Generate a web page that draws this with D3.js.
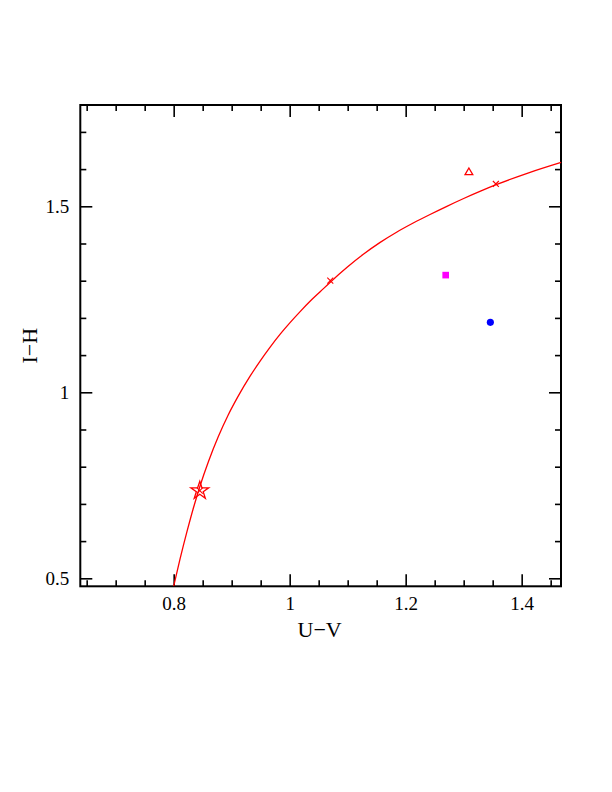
<!DOCTYPE html>
<html><head><meta charset="utf-8">
<script src="https://cdn.jsdelivr.net/npm/d3@7"></script>
<style>body{margin:0;background:#fff;} svg{display:block;}</style>
</head><body>
<script>
// Model curve (U-V, I-H)
const curveU  = [0.800,0.811,0.823,0.834,0.846,0.860,0.877,0.894,0.911,0.932,0.949,0.966,0.984,1.001,1.018,1.036,1.053,1.070,1.099,1.127,1.156,1.185,1.213,1.242,1.271,1.300,1.328,1.356,1.412,1.468];
const curveIH = [0.479,0.552,0.626,0.689,0.751,0.814,0.881,0.939,0.989,1.044,1.084,1.121,1.157,1.188,1.217,1.246,1.271,1.296,1.336,1.371,1.403,1.431,1.455,1.478,1.500,1.521,1.540,1.558,1.590,1.618];
// Crosses on the curve
const crossU  = [0.845, 1.070, 1.3555];
const crossIH = [0.7355, 1.300, 1.560];
// Star (open)
const starU = [0.845], starIH = [0.7355];
// Triangle (open)
const triU = [1.309], triIH = [1.591];
// Magenta square
const sqU = [1.269], sqIH = [1.315];
// Blue circle
const circU = [1.346], circIH = [1.188];
// Ticks
const xMajor = [0.8, 1, 1.2, 1.4];
const xMinor = [0.65,0.7,0.75,0.85,0.9,0.95,1.05,1.1,1.15,1.25,1.3,1.35,1.45];
const yMajor = [0.5, 1, 1.5];
const yMinor = [0.6,0.7,0.8,0.9,1.1,1.2,1.3,1.4,1.6,1.7];
const xTickLabels = ["0.8","1","1.2","1.4"];
const yTickLabels = ["0.5","1","1.5"];

const W = 612, H = 792;
const L = 80.3, R = 561, T = 105, B = 586.3;
const x = d3.scaleLinear().domain([0.639, 1.4678]).range([L, R]);
const y = d3.scaleLinear().domain([0.4785, 1.7723]).range([B, T]);

const svg = d3.select("body").append("svg").attr("width", W).attr("height", H);
const font = "'Liberation Serif', 'DejaVu Serif', serif";

function styleAxis(g){
  g.select(".domain").remove();
  g.selectAll("line").attr("stroke", "#000").attr("stroke-width", 1.6);
  g.selectAll("text").attr("font-family", font).attr("font-size", 19).attr("fill", "#000");
}
// bottom
svg.append("g").attr("transform", `translate(0,${B})`)
  .call(d3.axisBottom(x).tickValues(xMajor).tickSize(-12).tickPadding(10).tickFormat((d,i)=>xTickLabels[i])).call(styleAxis);
svg.append("g").attr("transform", `translate(0,${B})`)
  .call(d3.axisBottom(x).tickValues(xMinor).tickSize(-6).tickFormat("")).call(styleAxis);
// top
svg.append("g").attr("transform", `translate(0,${T})`)
  .call(d3.axisTop(x).tickValues(xMajor).tickSize(-12).tickFormat("")).call(styleAxis);
svg.append("g").attr("transform", `translate(0,${T})`)
  .call(d3.axisTop(x).tickValues(xMinor).tickSize(-6).tickFormat("")).call(styleAxis);
// left
svg.append("g").attr("transform", `translate(${L},0)`)
  .call(d3.axisLeft(y).tickValues(yMajor).tickSize(-12).tickPadding(11).tickFormat((d,i)=>yTickLabels[i])).call(styleAxis);
svg.append("g").attr("transform", `translate(${L},0)`)
  .call(d3.axisLeft(y).tickValues(yMinor).tickSize(-6).tickFormat("")).call(styleAxis);
// right
svg.append("g").attr("transform", `translate(${R},0)`)
  .call(d3.axisRight(y).tickValues(yMajor).tickSize(-12).tickFormat("")).call(styleAxis);
svg.append("g").attr("transform", `translate(${R},0)`)
  .call(d3.axisRight(y).tickValues(yMinor).tickSize(-6).tickFormat("")).call(styleAxis);

// frame
svg.append("rect").attr("x", L).attr("y", T).attr("width", R-L).attr("height", B-T)
  .attr("fill", "none").attr("stroke", "#000").attr("stroke-width", 2);

// curve
const curvePts = curveU.map((u,i)=>[u, curveIH[i]]);
svg.append("path").datum(curvePts)
  .attr("d", d3.line().x(d=>x(d[0])).y(d=>y(d[1])).curve(d3.curveMonotoneX))
  .attr("fill", "none").attr("stroke", "#ff0000").attr("stroke-width", 1.3);

// crosses
svg.selectAll(".cross").data(crossU.map((u,i)=>[u, crossIH[i]])).join("path")
  .attr("transform", d=>`translate(${x(d[0])},${y(d[1])})`)
  .attr("d", d3.symbol(d3.symbolTimes, 25))
  .attr("fill", "none").attr("stroke", "#ff0000").attr("stroke-width", 1.1);

// star
svg.selectAll(".star").data(starU.map((u,i)=>[u, starIH[i]])).join("path")
  .attr("transform", d=>`translate(${x(d[0])},${y(d[1])})`)
  .attr("d", d3.symbol(d3.symbolStar, 100))
  .attr("fill", "none").attr("stroke", "#ff0000").attr("stroke-width", 1.3);

// triangle
svg.selectAll(".tri").data(triU.map((u,i)=>[u, triIH[i]])).join("path")
  .attr("transform", d=>`translate(${x(d[0])},${y(d[1])})`)
  .attr("d", d3.symbol(d3.symbolTriangle, 26))
  .attr("fill", "none").attr("stroke", "#ff0000").attr("stroke-width", 1.3);

// square
svg.selectAll(".sq").data(sqU.map((u,i)=>[u, sqIH[i]])).join("path")
  .attr("transform", d=>`translate(${x(d[0])},${y(d[1])})`)
  .attr("d", d3.symbol(d3.symbolSquare, 44))
  .attr("fill", "#ff00ff");

// circle
svg.selectAll(".circ").data(circU.map((u,i)=>[u, circIH[i]])).join("path")
  .attr("transform", d=>`translate(${x(d[0])},${y(d[1])})`)
  .attr("d", d3.symbol(d3.symbolCircle, 40))
  .attr("fill", "#0000ff");

// axis titles
svg.append("text").attr("x", (L+R)/2 - 1).attr("y", 637)
  .attr("text-anchor", "middle").attr("font-family", font).attr("font-size", 22)
  .text("U\u2212V");
svg.append("text").attr("transform", `translate(37,${(T+B)/2}) rotate(-90)`)
  .attr("text-anchor", "middle").attr("font-family", font).attr("font-size", 22)
  .text("I\u2212H");
</script>
</body></html>
